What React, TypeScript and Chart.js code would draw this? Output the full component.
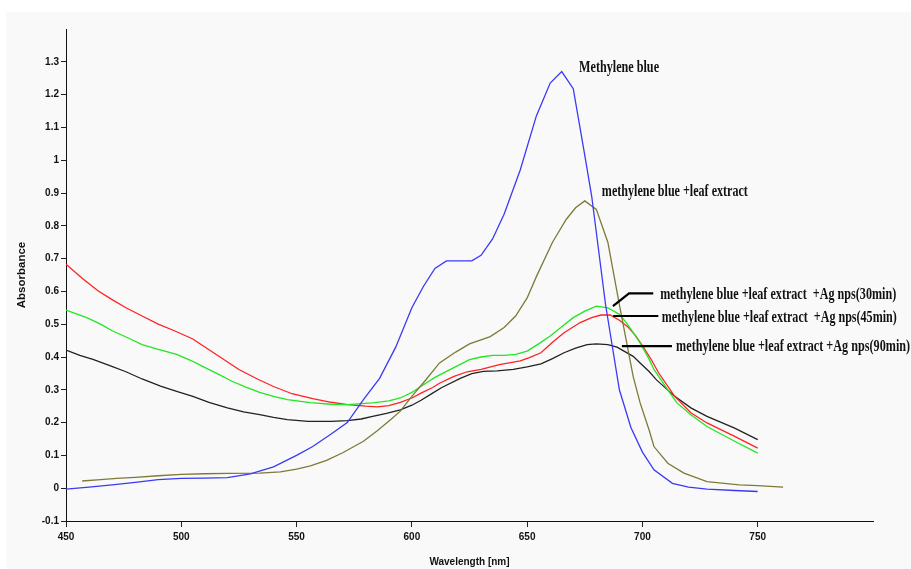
import React, { useEffect, useRef } from "react";
import { Chart, registerables } from "chart.js";

Chart.register(...registerables);

// Methylene blue
const mbNm = [450, 460, 470, 480, 490, 500, 510, 520, 530, 540, 550, 557, 565, 572, 579, 586, 593, 600, 605, 610, 615, 620, 626, 630, 635, 640, 647, 654, 660, 665, 670, 675, 678, 684, 690, 695, 700, 705, 713, 720, 728, 740, 750];
const mbAbs = [-0.003, 0.003, 0.01, 0.018, 0.026, 0.03, 0.031, 0.032, 0.044, 0.065, 0.1, 0.127, 0.165, 0.2, 0.27, 0.335, 0.43, 0.55, 0.615, 0.67, 0.693, 0.693, 0.693, 0.71, 0.76, 0.835, 0.97, 1.135, 1.235, 1.27, 1.218, 1.015, 0.89, 0.56, 0.3, 0.185, 0.11, 0.056, 0.015, 0.003, -0.003, -0.007, -0.01];

// Methylene blue + leaf extract
const leafNm = [457, 465, 472, 480, 490, 500, 510, 520, 534, 543, 550, 556, 563, 570, 579, 585, 591, 595, 600, 606, 612, 619, 625, 634, 640, 645, 650, 654, 661, 667, 671, 675, 680, 685, 690, 696, 699, 703, 705, 711, 718, 728, 742, 750, 761];
const leafAbs = [0.022, 0.026, 0.03, 0.033, 0.038, 0.042, 0.044, 0.045, 0.046, 0.05, 0.058, 0.068, 0.085, 0.108, 0.143, 0.175, 0.21, 0.235, 0.28, 0.33, 0.382, 0.415, 0.44, 0.462, 0.49, 0.525, 0.58, 0.645, 0.75, 0.82, 0.855, 0.876, 0.85, 0.75, 0.56, 0.34, 0.26, 0.175, 0.127, 0.076, 0.046, 0.02, 0.01, 0.008, 0.003];

// + Ag nps (30 min)
const ag30Nm = [450, 459, 465, 470, 477, 483, 490, 498, 504, 509, 516, 522, 528, 534, 540, 546, 556, 565, 572, 583, 590, 595, 600, 604, 610, 618, 625, 630, 635, 640, 645, 650, 655, 660, 665, 670, 675, 680, 685, 690, 693, 696, 699, 703, 705, 711, 715, 721, 728, 740, 750];
const ag30Abs = [0.543, 0.52, 0.5, 0.48, 0.458, 0.438, 0.423, 0.408, 0.39, 0.372, 0.348, 0.326, 0.308, 0.292, 0.28, 0.27, 0.261, 0.256, 0.255, 0.26, 0.266, 0.275, 0.292, 0.311, 0.338, 0.367, 0.392, 0.4, 0.405, 0.405, 0.408, 0.418, 0.44, 0.464, 0.492, 0.52, 0.54, 0.555, 0.55, 0.53, 0.505, 0.474, 0.443, 0.392, 0.362, 0.3, 0.26, 0.224, 0.188, 0.143, 0.107];

// + Ag nps (45 min)
const ag45Nm = [450, 457, 464, 470, 476, 483, 490, 497, 505, 514, 525, 533, 540, 548, 557, 565, 572, 580, 585, 590, 595, 600, 604, 609, 612, 618, 624, 630, 638, 647, 651, 656, 661, 666, 673, 678, 682, 686, 690, 694, 697, 700, 704, 707, 714, 721, 728, 740, 750];
const ag45Abs = [0.683, 0.64, 0.601, 0.575, 0.55, 0.525, 0.5, 0.48, 0.455, 0.413, 0.362, 0.333, 0.31, 0.288, 0.273, 0.262, 0.255, 0.25, 0.248, 0.252, 0.262, 0.275, 0.29, 0.307, 0.32, 0.34, 0.355, 0.362, 0.377, 0.388, 0.398, 0.413, 0.445, 0.474, 0.505, 0.52, 0.528, 0.528, 0.512, 0.49, 0.465, 0.435, 0.39, 0.352, 0.28, 0.23, 0.199, 0.158, 0.122];

// + Ag nps (90 min)
const ag90Nm = [450, 456, 462, 469, 476, 483, 491, 498, 505, 512, 520, 527, 534, 540, 546, 555, 565, 572, 578, 583, 589, 595, 600, 604, 609, 613, 621, 626, 631, 637, 644, 650, 656, 661, 666, 671, 676, 680, 685, 689, 692, 696, 699, 703, 706, 714, 721, 728, 740, 750];
const ag90Abs = [0.421, 0.405, 0.392, 0.374, 0.355, 0.333, 0.311, 0.295, 0.28, 0.262, 0.245, 0.233, 0.224, 0.216, 0.209, 0.204, 0.204, 0.206, 0.211, 0.219, 0.228, 0.239, 0.253, 0.268, 0.29, 0.307, 0.335, 0.349, 0.356, 0.358, 0.362, 0.37, 0.379, 0.395, 0.413, 0.427, 0.438, 0.44, 0.438, 0.43, 0.418, 0.402, 0.382, 0.355, 0.331, 0.28, 0.245, 0.219, 0.183, 0.148];

// Annotation labels (anchored in data units: left edge, vertical middle)
const labelTexts = [
  "Methylene blue",
  "methylene blue +leaf extract",
  "methylene blue +leaf extract  +Ag nps(30min)",
  "methylene blue +leaf extract  +Ag nps(45min)",
  "methylene blue +leaf extract +Ag nps(90min)",
];
const labelNm = [672.5, 682.4, 707.7, 708.4, 714.6];
const labelAbs = [1.282, 0.904, 0.591, 0.521, 0.433];
const labelWidths = [80, 146, 236, 235, 234];

// Pointer lines
const ptr30Nm = [687.2, 694.2, 704.7];
const ptr30Abs = [0.555, 0.594, 0.594];
const ptr45Nm = [687.3, 706.9];
const ptr45Abs = [0.525, 0.525];
const ptr90Nm = [691.1, 712.8];
const ptr90Abs = [0.433, 0.433];

const toPts = (xs: number[], ys: number[]) => xs.map((x, i) => ({ x, y: ys[i] }));

const annotationPlugin = {
  id: "annotations",
  afterDatasetsDraw(chart: any) {
    const { ctx, scales } = chart;
    const xs = scales.x;
    const ys = scales.y;
    ctx.save();
    ctx.fillStyle = "#111";
    ctx.textBaseline = "middle";
    ctx.textAlign = "left";
    ctx.font = 'bold 17px "Liberation Serif", "Times New Roman", serif';
    labelTexts.forEach((t, i) => {
      const px = xs.getPixelForValue(labelNm[i]);
      const py = ys.getPixelForValue(labelAbs[i]);
      const w = ctx.measureText(t).width;
      const sx = labelWidths[i] / w;
      ctx.save();
      ctx.translate(px, py);
      ctx.scale(sx, 1);
      ctx.fillText(t, 0, 0);
      ctx.restore();
    });
    ctx.strokeStyle = "#000";
    ctx.lineWidth = 2.2;
    const ptrs: [number[], number[]][] = [
      [ptr30Nm, ptr30Abs],
      [ptr45Nm, ptr45Abs],
      [ptr90Nm, ptr90Abs],
    ];
    ptrs.forEach(([nx, ay]) => {
      ctx.beginPath();
      nx.forEach((n, j) => {
        const px = xs.getPixelForValue(n);
        const py = ys.getPixelForValue(ay[j]);
        if (j === 0) ctx.moveTo(px, py);
        else ctx.lineTo(px, py);
      });
      ctx.stroke();
    });
    ctx.restore();
  },
};

export default function App() {
  const ref = useRef<HTMLCanvasElement>(null);

  useEffect(() => {
    if (!ref.current) return;
    const tickFont = { family: '"Liberation Sans", Arial, sans-serif', weight: "bold" as const, size: 10 };
    const mk = (label: string, xs: number[], ys: number[], color: string) => ({
      label,
      data: toPts(xs, ys),
      borderColor: color,
      backgroundColor: color,
      borderWidth: 1.3,
      pointRadius: 0,
      tension: 0,
      fill: false,
    });
    const chart = new Chart(ref.current, {
      type: "line",
      data: {
        datasets: [
          mk("Methylene blue", mbNm, mbAbs, "#3a3af5"),
          mk("methylene blue +leaf extract", leafNm, leafAbs, "#7d7a36"),
          mk("+Ag nps(30min)", ag30Nm, ag30Abs, "#22e622"),
          mk("+Ag nps(45min)", ag45Nm, ag45Abs, "#ff2222"),
          mk("+Ag nps(90min)", ag90Nm, ag90Abs, "#222222"),
        ],
      },
      options: {
        animation: false,
        responsive: false,
        devicePixelRatio: 1,
        layout: { padding: { top: 29, right: 38, left: 0, bottom: 0 } },
        plugins: { legend: { display: false }, tooltip: { enabled: false } },
        scales: {
          x: {
            type: "linear",
            min: 450,
            max: 800,
            ticks: { stepSize: 50, color: "#111", font: tickFont, padding: 4, maxRotation: 0 },
            grid: { drawOnChartArea: false, drawTicks: true, tickLength: 6, color: "#222" },
            border: { display: true, color: "#111", width: 1 },
            title: {
              display: true,
              text: "Wavelength [nm]",
              color: "#111",
              font: { family: '"Liberation Sans", Arial, sans-serif', weight: "bold", size: 10 },
              padding: { top: 0, bottom: 1 },
            },
            afterBuildTicks: (s: any) => {
              s.ticks = s.ticks.filter((t: any) => t.value < 790);
            },
            afterFit: (s: any) => {
              s.height = 48;
            },
          },
          y: {
            type: "linear",
            min: -0.1,
            max: 1.4,
            ticks: {
              stepSize: 0.1,
              color: "#111",
              font: tickFont,
              padding: 2,
              callback: (v: any) => String(Number(Number(v).toFixed(1))),
            },
            grid: { drawOnChartArea: false, drawTicks: true, tickLength: 5, color: "#222" },
            border: { display: true, color: "#111", width: 1 },
            title: {
              display: true,
              text: "Absorbance",
              color: "#111",
              font: { family: '"Liberation Sans", Arial, sans-serif', weight: "bold", size: 11.5 },
              padding: { top: 15, bottom: 0 },
            },
            afterBuildTicks: (s: any) => {
              s.ticks = s.ticks.filter((t: any) => t.value < 1.35);
            },
            afterFit: (s: any) => {
              s.width = 66;
            },
          },
        },
      },
      plugins: [annotationPlugin],
    } as any);
    return () => chart.destroy();
  }, []);

  return (
    <div style={{ position: "fixed", left: 0, top: 0, width: 911, height: 569, background: "#ffffff", overflow: "hidden" }}>
      <div style={{ position: "absolute", left: 6, top: 12, right: 0, bottom: 0, background: "#f9f9f9" }} />
      <canvas ref={ref} width={911} height={569} style={{ position: "absolute", left: 0, top: 0, width: 911, height: 569 }} />
    </div>
  );
}
